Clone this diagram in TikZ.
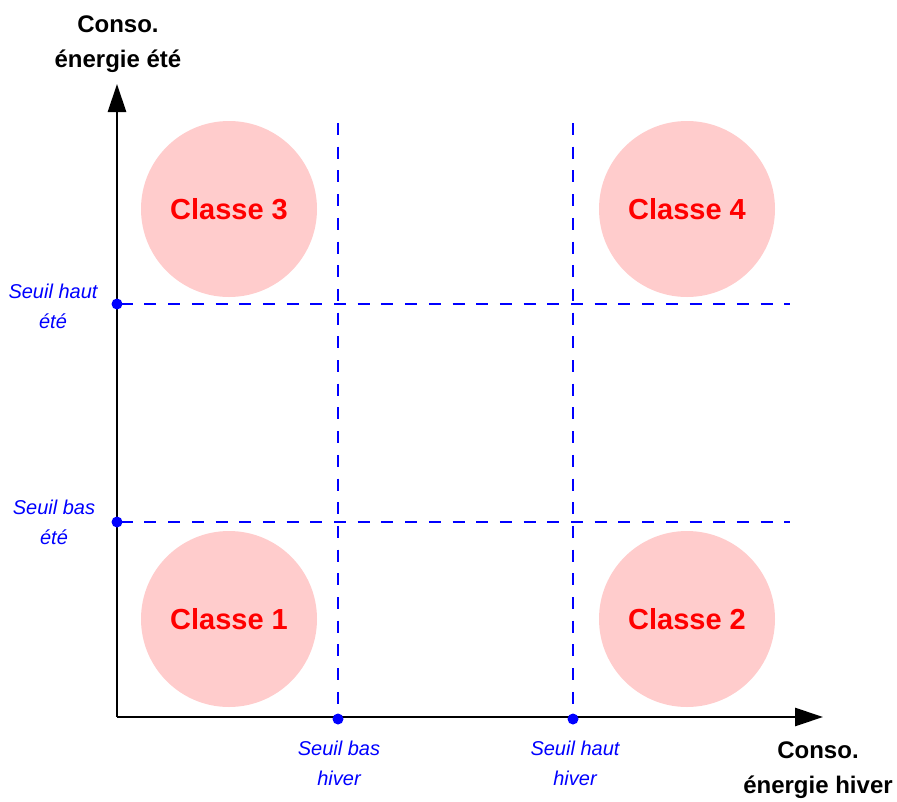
\documentclass[tikz,border=0pt]{standalone}
\usepackage{fontspec}
\setmainfont{Liberation Sans}
\usetikzlibrary{arrows.meta}
\definecolor{pinkfill}{HTML}{FFCCCC}
\definecolor{pureblue}{HTML}{0000FF}
\definecolor{purered}{HTML}{FF0000}
\tikzset{
  axis/.style={line width=2.8pt, -{Triangle[length=28pt,width=18pt]}},
  thresh/.style={pureblue, line width=2pt, dash pattern=on 12pt off 11.7pt, dash phase=20pt},
  vthresh/.style={pureblue, line width=2pt, dash pattern=on 12pt off 11.7pt},
  dot/.style={circle, fill=pureblue, inner sep=0pt, minimum size=11pt},
  classe/.style={circle, fill=pinkfill, minimum size=176pt, inner sep=0pt,
    text=purered, font=\fontsize{29}{33}\selectfont\bfseries},
  seuil/.style={align=center, text=pureblue, font=\fontsize{20}{30}\selectfont\itshape},
  axlabel/.style={align=center, font=\fontsize{24}{35}\selectfont\bfseries}
}
\begin{document}
\begin{tikzpicture}[x=1pt,y=-1pt]
\useasboundingbox (0,0) rectangle (897,801);
% circles
\node[classe] (c3) at (229,209) {Classe 3};
\node[classe] (c4) at (687,209) {Classe 4};
\node[classe] (c1) at (229,619) {Classe 1};
\node[classe] (c2) at (687,619) {Classe 2};
% coordinates
\coordinate (O) at (117,717);
\coordinate (Ytip) at (117,84);
\coordinate (Xtip) at (823,717);
\coordinate (hh0) at (117,304);
\coordinate (hh1) at (790,304);
\coordinate (hb0) at (117,522);
\coordinate (hb1) at (790,522);
\coordinate (vb0) at (338,123);
\coordinate (vb1) at (338,719);
\coordinate (vh0) at (573,123);
\coordinate (vh1) at (573,719);
% dashed thresholds
\draw[thresh] (hh0) -- (hh1);
\draw[thresh] (hb0) -- (hb1);
\draw[vthresh] (vb0) -- (vb1);
\draw[vthresh] (vh0) -- (vh1);
% axes
\draw[axis] (O) -- (Ytip);
\draw[axis] (O) -- (Xtip);
% dots
\node[dot] (d1) at (hh0) {};
\node[dot] (d2) at (hb0) {};
\node[dot] (d3) at (vb1) {};
\node[dot] (d4) at (vh1) {};
% labels
\node[seuil] (l1) at (53,306) {Seuil haut\\été};
\node[seuil] (l2) at (54,522) {Seuil bas\\été};
\node[seuil] (l3) at (339,763) {Seuil bas\\hiver};
\node[seuil] (l4) at (575,763) {Seuil haut\\hiver};
\node[axlabel] (ay) at (118,44) {Conso.\\énergie été};
\node[axlabel] (ax) at (818,770) {Conso.\\énergie hiver};
\end{tikzpicture}
\end{document}
